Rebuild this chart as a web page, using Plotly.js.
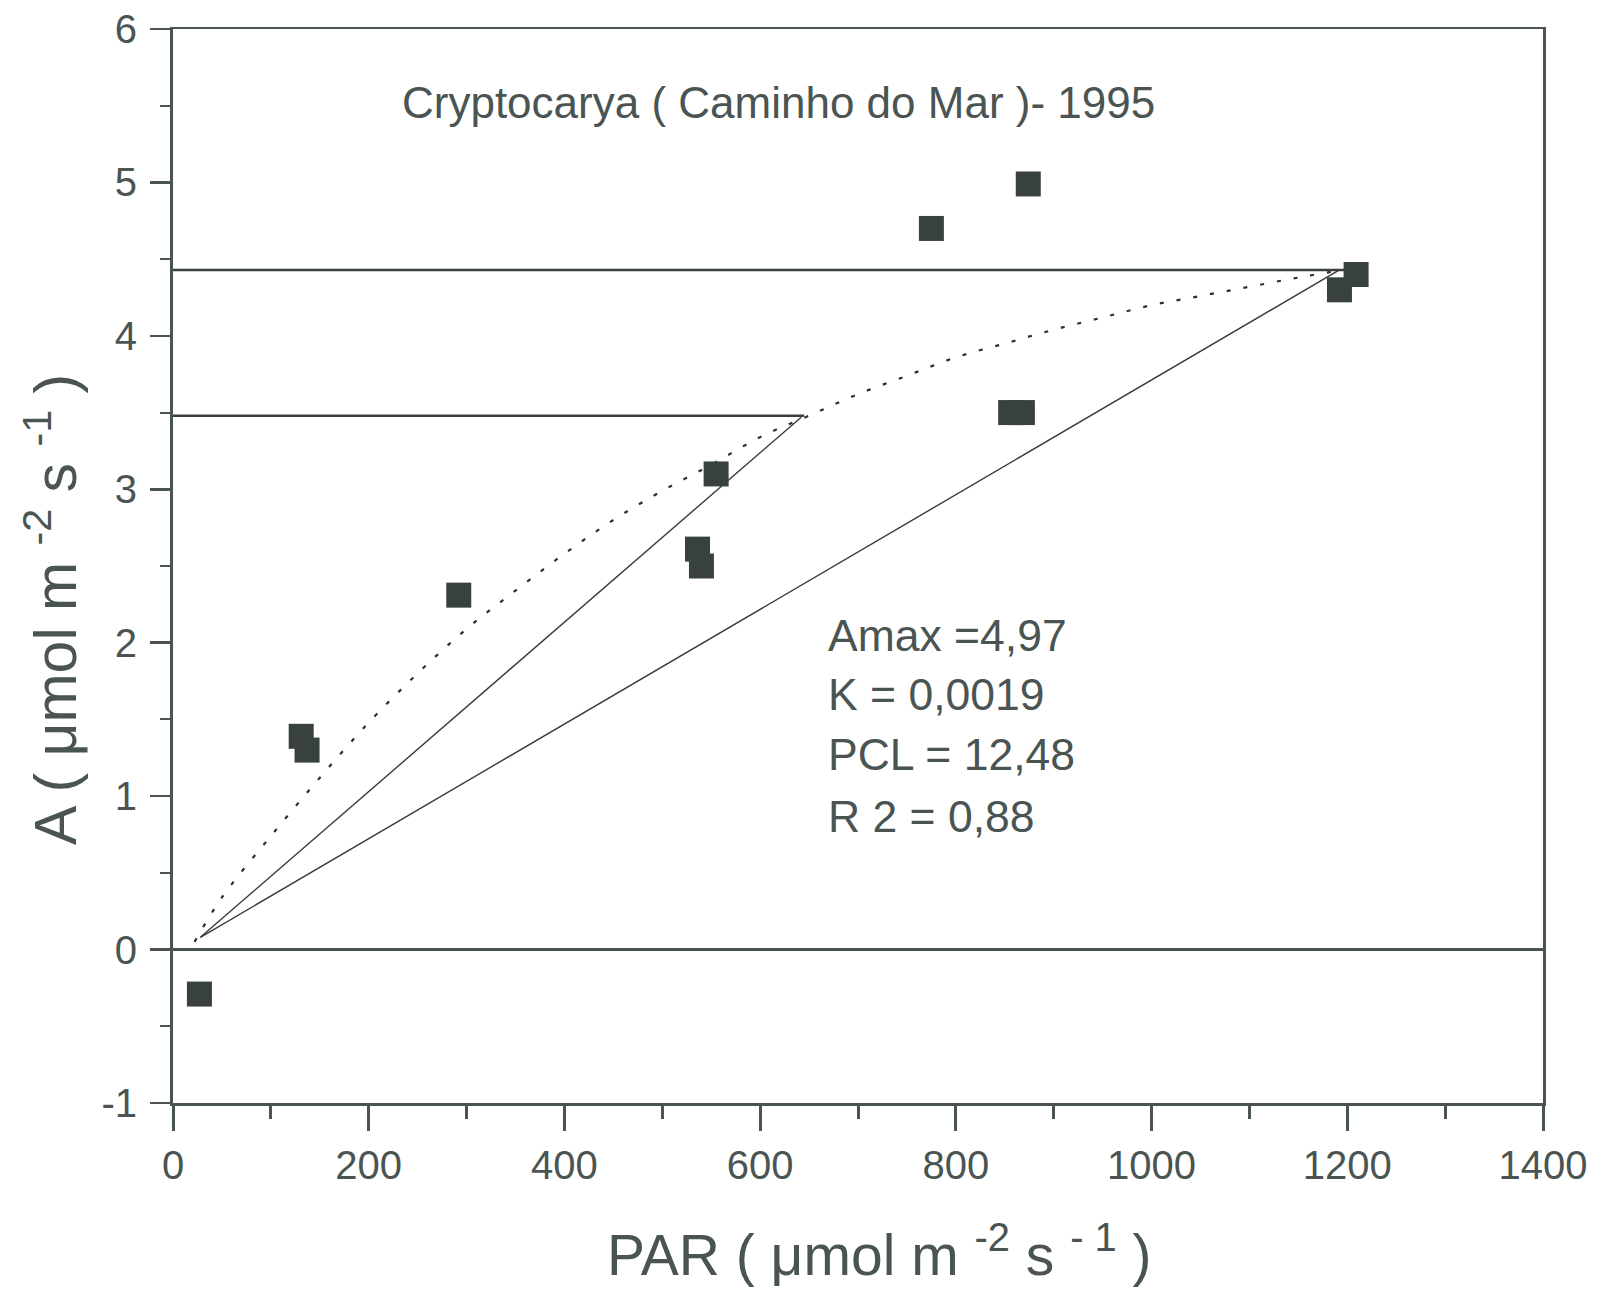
<!DOCTYPE html>
<html>
<head>
<meta charset="utf-8">
<script src="https://cdn.plot.ly/plotly-3.0.1.min.js"></script>
<style>html,body{margin:0;padding:0;background:#fff;}#chart{width:1601px;height:1292px;}</style>
</head>
<body>
<div id="chart"></div>
<script>
// Observed points (PAR, A)
const parObs = [27, 131, 137, 292, 536, 540, 555, 775, 874, 856, 868, 1192, 1209];
const aObs   = [-0.29, 1.39, 1.30, 2.31, 2.61, 2.50, 3.10, 4.70, 4.99, 3.50, 3.50, 4.30, 4.40];

// Fitted light-response curve (dotted)
const fitPar = [22, 50, 100, 150, 200, 250, 300, 350, 400, 450, 500, 550, 600, 650, 700, 750, 800, 850, 900, 950, 1000, 1050, 1100, 1150, 1195];
const fitA   = [0.05, 0.34, 0.74, 1.12, 1.48, 1.80, 2.09, 2.34, 2.58, 2.80, 2.99, 3.16, 3.34, 3.48, 3.62, 3.74, 3.86, 3.95, 4.04, 4.12, 4.20, 4.26, 4.32, 4.38, 4.43];

// Straight lines from the origin
const line1Par = [28, 642];
const line1A   = [0.08, 3.47];
const line2Par = [28, 1192];
const line2A   = [0.08, 4.43];

// Horizontal reference lines
const hUpperPar = [0, 1197];
const hUpperA   = [4.43, 4.43];
const hLowerPar = [0, 645];
const hLowerA   = [3.48, 3.48];

// Axis ticks
const xTickVals = [0, 200, 400, 600, 800, 1000, 1200, 1400];
const xTickText = ["0", "200", "400", "600", "800", "1000", "1200", "1400"];
const yTickVals = [-1, 0, 1, 2, 3, 4, 5, 6];
const yTickText = ["-1", "0", "1", "2", "3", "4", "5", "6"];

// Text
const titleText = "Cryptocarya ( Caminho do Mar )- 1995";
const xTitleText = "PAR ( \u03bcmol m <sup>-2</sup> s <sup>- 1</sup> )";
const yTitleText = "A ( \u03bcmol m <sup>-2</sup> s <sup>-1</sup> )";
const statsText = ["Amax =4,97", "K = 0,0019", "PCL = 12,48", "R 2 = 0,88"];
const statsY = [2.05, 1.66, 1.27, 0.87];

const ink = "#4a5452";
const dark = "#39413f";
const font = "Liberation Sans, Arial, sans-serif";

const traces = [
  {x: hUpperPar, y: hUpperA, mode: "lines", line: {color: dark, width: 2.5}, hoverinfo: "skip"},
  {x: hLowerPar, y: hLowerA, mode: "lines", line: {color: dark, width: 2.5}, hoverinfo: "skip"},
  {x: line1Par, y: line1A, mode: "lines", line: {color: "#3a3a3a", width: 1.4}, hoverinfo: "skip"},
  {x: line2Par, y: line2A, mode: "lines", line: {color: "#3a3a3a", width: 1.4}, hoverinfo: "skip"},
  {x: fitPar, y: fitA, mode: "lines", line: {color: "#2e2e2e", width: 2.2, dash: "4px,13px", shape: "spline"}, hoverinfo: "skip"},
  {x: parObs, y: aObs, mode: "markers", marker: {symbol: "square", size: 25, color: dark, line: {width: 0}}}
];

const annotations = [
  {x: 619, y: 5.52, xref: "x", yref: "y", text: titleText, showarrow: false, xanchor: "center", yanchor: "middle",
   font: {family: font, size: 44, color: ink}},
  {x: 0.516, y: -0.138, xref: "paper", yref: "paper", text: xTitleText, showarrow: false, xanchor: "center", yanchor: "middle",
   font: {family: font, size: 57, color: ink}},
  {x: -0.089, y: 0.459, xref: "paper", yref: "paper", text: yTitleText, showarrow: false, textangle: -90, xanchor: "center", yanchor: "middle",
   font: {family: font, size: 59, color: ink}}
];
statsText.forEach((t, i) => annotations.push({
  x: 667, y: statsY[i], xref: "x", yref: "y", text: t, showarrow: false, xanchor: "left", yanchor: "middle",
  font: {family: font, size: 44.5, color: ink}
}));

const layout = {
  width: 1601, height: 1292,
  margin: {l: 173, r: 58, t: 29, b: 189, pad: 0},
  paper_bgcolor: "#ffffff", plot_bgcolor: "#ffffff",
  showlegend: false,
  font: {family: font, color: ink},
  xaxis: {
    range: [0, 1400], tickmode: "array", tickvals: xTickVals, ticktext: xTickText,
    showgrid: false, zeroline: false,
    showline: true, linecolor: ink, linewidth: 2.5, mirror: true,
    ticks: "outside", ticklen: 25, tickwidth: 3, tickcolor: ink,
    minor: {dtick: 100, tick0: 0, ticks: "outside", ticklen: 13, tickwidth: 3, tickcolor: ink},
    tickfont: {family: font, size: 40, color: ink},
    ticklabelstandoff: 0
  },
  yaxis: {
    range: [-1, 6], tickmode: "array", tickvals: yTickVals, ticktext: yTickText,
    showgrid: false,
    zeroline: true, zerolinecolor: ink, zerolinewidth: 2.5,
    showline: true, linecolor: ink, linewidth: 3, mirror: true,
    ticks: "outside", ticklen: 20, tickwidth: 2.5, tickcolor: ink,
    minor: {dtick: 0.5, tick0: 0, ticks: "outside", ticklen: 10, tickwidth: 2, tickcolor: ink},
    tickfont: {family: font, size: 40, color: ink},
    ticklabelstandoff: 5
  },
  annotations: annotations
};

Plotly.newPlot("chart", traces, layout, {displayModeBar: false, staticPlot: true});
</script>
</body>
</html>
